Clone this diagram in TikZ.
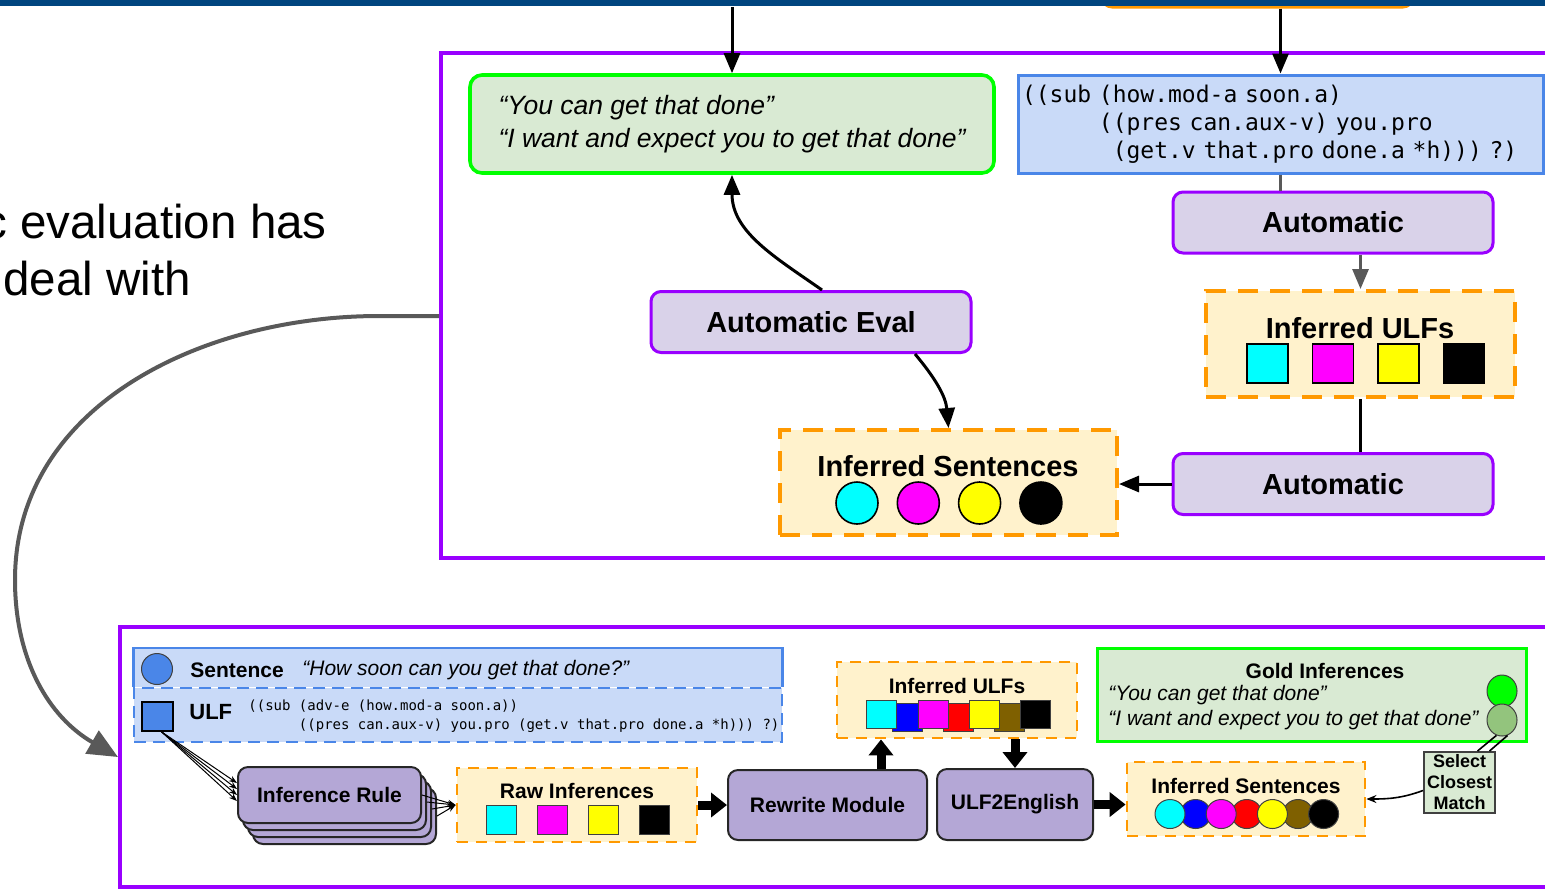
\documentclass[tikz,border=0pt]{standalone}
\usepackage{fontspec}
\setmainfont{Liberation Sans}
\setmonofont{DejaVu Sans Mono}
\usepackage{tikz}
\usetikzlibrary{arrows.meta, shapes.geometric}
\definecolor{navy}{HTML}{00457F}
\definecolor{vpurple}{HTML}{9900FF}
\definecolor{vgreen}{HTML}{00FF00}
\definecolor{mint}{HTML}{D9EAD3}
\definecolor{vblue}{HTML}{4A86E8}
\definecolor{skyblue}{HTML}{C9DAF8}
\definecolor{lavender}{HTML}{D9D2E9}
\definecolor{lilac}{HTML}{B4A7D6}
\definecolor{vorange}{HTML}{FF9900}
\definecolor{cream}{HTML}{FFF2CC}
\definecolor{wire}{HTML}{595959}
\definecolor{umber}{HTML}{7F6000}
\definecolor{sage}{HTML}{93C47D}
\definecolor{vcyan}{HTML}{00FFFF}
\definecolor{vmag}{HTML}{FF00FF}
\definecolor{vyel}{HTML}{FFFF00}
\definecolor{vblu}{HTML}{0000FF}
\definecolor{vred}{HTML}{FF0000}
\newcommand{\bigbf}{\fontsize{14.5pt}{17pt}\selectfont\bfseries}
\newcommand{\smallbf}{\fontsize{10.5pt}{12.5pt}\selectfont\bfseries}
\newcommand{\smallit}{\fontsize{10.5pt}{12.5pt}\selectfont\itshape}
\tikzset{
  panel/.style={draw=vpurple, line width=2pt, inner sep=0pt},
  auto box/.style={draw=vpurple, fill=lavender, line width=1.5pt, rounded corners=5pt,
    minimum width=160pt, minimum height=30.5pt, font=\bigbf},
  big set/.style={draw=vorange, fill=cream, line width=2pt, dash pattern=on 10pt off 6pt, inner sep=0pt},
  small set/.style={draw=vorange, fill=cream, line width=1.4pt, dash pattern=on 5.5pt off 4pt, inner sep=0pt},
  module/.style={draw=black!85, fill=lilac, line width=1pt, rounded corners=5pt, font=\smallbf},
  chip/.style={draw=black, line width=0.8pt, inner sep=0pt},
  small chip/.style={draw=black!75, line width=0.5pt, inner sep=0pt},
  flow/.style={line width=1.5pt, -{Triangle[length=10pt,width=8pt]}},
  push/.style={line width=4.5pt, -{Triangle[length=8pt,width=12pt]}},
  thin flow/.style={line width=0.5pt, -{Stealth[length=4pt,width=3pt]}},
}

\begin{document}
\begin{tikzpicture}[x=0.5pt, y=-0.5pt]
	\useasboundingbox (0,0) rectangle (1545,891);
	\clip (0,0) rectangle (1545,891);

	% slide bar and the box sitting above it
	\node [draw=vorange, fill=cream, line width=1.5pt, rounded corners=5pt,
		minimum width=155.5pt, minimum height=27pt] (prev) at (1257.5,-20) {};
	\node [fill=navy, inner sep=0pt, minimum width=772.5pt, minimum height=3pt,
		anchor=north west] (bar) at (0,0) {};

	\node [anchor=base west, inner sep=0pt, font=\fontsize{23.75pt}{28.5pt}\selectfont]
		(claim-a) at (-17,238) {c evaluation has};
	\node [anchor=base west, inner sep=0pt, font=\fontsize{23.75pt}{28.5pt}\selectfont]
		(claim-b) at (3,295) {deal with};

	% upper panel
	\node [panel, minimum width=579.5pt, minimum height=252.5pt] (top) at (1020.5,305.5) {};
	\node [draw=vgreen, fill=mint, line width=1.8pt, rounded corners=6pt, minimum width=262pt,
		minimum height=49pt, align=left, font=\fontsize{13.25pt}{16.5pt}\selectfont\itshape]
		(gold) at (732,124) {\raisebox{-3pt}{``You can get that done''}\\\raisebox{-3pt}{``I want and expect you to get that done''}};
	\node [draw=vblue, fill=skyblue, line width=1.5pt, minimum height=49pt, text width=258.5pt,
		inner xsep=2pt, align=left, font=\ttfamily\fontsize{11.5pt}{14pt}\selectfont]
		(code) at (1280.5,124) {((sub (how.mod-a soon.a)\\
			\hphantom{((sub }((pres can.aux-v) you.pro\\
			\hphantom{((sub x}(get.v that.pro done.a *h))) ?)};
	\node [auto box] (auto-a) at (1333,222.5) {Automatic};
	\node [big set, minimum width=154.5pt, minimum height=53pt] (ulfs-a) at (1360.5,344) {};
	\node [font=\bigbf] (ulfs-a-title) at (1360,328) {Inferred ULFs};
	\foreach \c [count=\i] in {vcyan,vmag,vyel,black} {
		\node [chip, fill=\c, minimum width=20.5pt, minimum height=19.5pt]
			(usq-\i) at ({1202+65.5*\i},363.5) {};
	};
	\node [auto box] (auto-b) at (1333,484) {Automatic};
	\node [big set, minimum width=168.5pt, minimum height=52.5pt] (sents-a) at (948.5,482.5) {};
	\node [font=\bigbf] (sents-a-title) at (948,466) {Inferred Sentences};
	\foreach \c [count=\i] in {vcyan,vmag,vyel,black} {
		\node [chip, circle, fill=\c, minimum size=21pt] (sdot-\i) at ({795.7+61.3*\i},503) {};
	};
	\node [auto box] (eval) at (811,322) {Automatic Eval};

	\draw [flow] (bar.south -| gold.north) -- (gold.north);
	\draw [flow] (prev.south -| code.north) -- (code.north);
	\draw [line width=1.5pt, wire] (code.south) -- (code.south |- auto-a.north);
	\draw [flow, wire] (auto-a.south -| ulfs-a.north) -- (ulfs-a.north);
	\draw [line width=1.5pt] (ulfs-a.south) -- (ulfs-a.south |- auto-b.north);
	\draw [flow] (auto-b.west) -- (auto-b.west -| sents-a.east);
	\draw [flow] ([xshift=5.5pt]eval.north) to[out=145,in=-90] (gold.south);
	\draw [flow] ([xshift=52pt]eval.south) to[out=-50,in=95] (sents-a.north);

	% lower panel
	\node [panel, minimum width=740pt, minimum height=130pt] (bottom) at (860,757) {};
	\coordinate (swing) at (15,580);
	\draw [wire, line width=2pt, -{Triangle[length=15pt,width=13pt]}]
		([yshift=-5.25pt]top.west) -- ++(-60,0) to[out=180,in=90] (swing)
		to[out=-90,in=150] (bottom.west);

	\node [draw=vblue, fill=skyblue, line width=1.3pt, dash pattern=on 6pt off 3.5pt,
		minimum width=324pt, minimum height=27pt, inner sep=0pt] (ulfrow) at (458,715) {};
	\node [fill=skyblue, minimum width=324pt, minimum height=19pt, inner sep=0pt]
		(sentrow) at (458,667.5) {};
	\draw [vblue, line width=1.3pt] (sentrow.south west) -- (sentrow.north west)
		-- (sentrow.north east) -- (sentrow.south east);
	\node [small chip, circle, fill=vblue, minimum size=15.5pt] (sentdot) at (157,669) {};
	\node [anchor=west, inner sep=0pt, font=\smallbf] (sentlabel) at (190,670) {Sentence};
	\node [anchor=west, inner sep=0pt, font=\smallit] (sentquote) at (302,670)
		{``How soon can you get that done?''};
	\node [chip, fill=vblue, minimum width=15.5pt, minimum height=14.5pt] (ulfdot) at (157.5,716.5) {};
	\node [anchor=west, inner sep=0pt, font=\fontsize{11pt}{13pt}\selectfont\bfseries]
		(ulflabel) at (189,712) {ULF};
	\node [anchor=west, align=left, inner sep=0pt, font=\ttfamily\fontsize{7pt}{9.5pt}\selectfont]
		(ulfcode) at (248,716.5) {((sub (adv-e (how.mod-a soon.a))\\
			\hphantom{((sub }((pres can.aux-v) you.pro (get.v that.pro done.a *h))) ?)};

	\foreach \i in {4,3,2,1} {
		\node [module, minimum width=91.5pt, minimum height=28pt]
			(rule-\i) at ({324.5+5*\i},{788+7*\i}) {\ifnum\i=1 Inference Rule\fi};
	};
	\node [small set, minimum width=120pt, minimum height=37pt] (raw) at (577,805) {};
	\node [font=\smallbf] (raw-title) at (577,791) {Raw Inferences};
	\foreach \c [count=\i] in {vcyan,vmag,vyel,black} {
		\node [small chip, fill=\c, minimum width=15pt, minimum height=14.5pt]
			(rsq-\i) at ({450+51*\i},819.5) {};
	};
	\node [module, minimum width=99.5pt, minimum height=35pt] (rewrite) at (827.5,805) {Rewrite Module};
	\node [small set, minimum width=120pt, minimum height=38pt] (ulfs-b) at (957,700) {};
	\node [font=\smallbf] (ulfs-b-title) at (957,686) {Inferred ULFs};
	\foreach \c [count=\i] in {vblu,vred,umber} {
		\node [small chip, fill=\c, minimum width=15pt, minimum height=14pt]
			(bsq-\i) at ({856.05+51.3*\i},717.5) {};
	};
	\foreach \c [count=\i] in {vcyan,vmag,vyel,black} {
		\node [small chip, fill=\c, minimum width=15pt, minimum height=14pt]
			(fsq-\i) at ({830.4+51.3*\i},714) {};
	};
	\node [module, minimum width=78pt, minimum height=35.5pt] (u2e) at (1015,804.5) {ULF2English};
	\node [small set, minimum width=119pt, minimum height=37pt] (sents-b) at (1246,799) {};
	\node [font=\smallbf] (sents-b-title) at (1246,786) {Inferred Sentences};
	\foreach \c [count=\i] in {vblu,vred,umber} {
		\node [small chip, ellipse, fill=\c, minimum width=15pt, minimum height=14.5pt]
			(bdot-\i) at ({1144.4+51.2*\i},814) {};
	};
	\foreach \c [count=\i] in {vcyan,vmag,vyel,black} {
		\node [small chip, ellipse, fill=\c, minimum width=15pt, minimum height=14.5pt]
			(fdot-\i) at ({1118.8+51.2*\i},814) {};
	};
	\node [draw=vgreen, fill=mint, line width=1.5pt, minimum width=214.5pt, minimum height=46.5pt]
		(goldset) at (1311.5,694.5) {};
	\node [font=\smallbf] (goldset-title) at (1325,671) {Gold Inferences};
	\node [anchor=west, align=left, inner sep=0pt, font=\smallit] (goldset-text) at (1108,707.5)
		{``You can get that done''\\``I want and expect you to get that done''};
	\node [small chip, ellipse, fill=vgreen, minimum width=15pt, minimum height=16pt] (gdot-1) at (1502,691) {};
	\node [small chip, ellipse, fill=sage, minimum width=15pt, minimum height=16pt] (gdot-2) at (1502,720) {};
	\node [draw=black!75, fill=mint, line width=1pt, align=center, inner sep=1pt, minimum width=35.5pt,
		minimum height=30.5pt, font=\fontsize{9pt}{10.5pt}\selectfont\bfseries]
		(select) at (1459.5,782.5) {Select\\Closest\\Match};

	\foreach \d in {6,3,0,-3} {
		\draw [thin flow] ([xshift=2pt]ulfdot.south) -- ([yshift=\d pt]rule-1.west);
	};
	\foreach \i in {1,...,4} {
		\draw [thin flow] (rule-\i.east) -- (raw.west);
	};
	\coordinate (lift) at ([xshift=26.75pt]rewrite.north);
	\draw [push] (raw.east) -- (rewrite.west);
	\draw [push] (lift) -- (lift |- ulfs-b.south);
	\draw [push] (u2e.north |- ulfs-b.south) -- (u2e.north);
	\draw [push] (u2e.east) -- (u2e.east -| sents-b.west);
	\draw [line width=0.8pt] (gdot-2.250) -- ([xshift=9pt]select.north);
	\draw [line width=0.8pt] (gdot-2.290) -- ([xshift=15pt]select.north);
	\draw [line width=0.8pt, -{Stealth[length=5pt,width=4pt]}]
		([yshift=-4pt]select.west) to[out=200,in=0] (sents-b.east);
\end{tikzpicture}
\end{document}
